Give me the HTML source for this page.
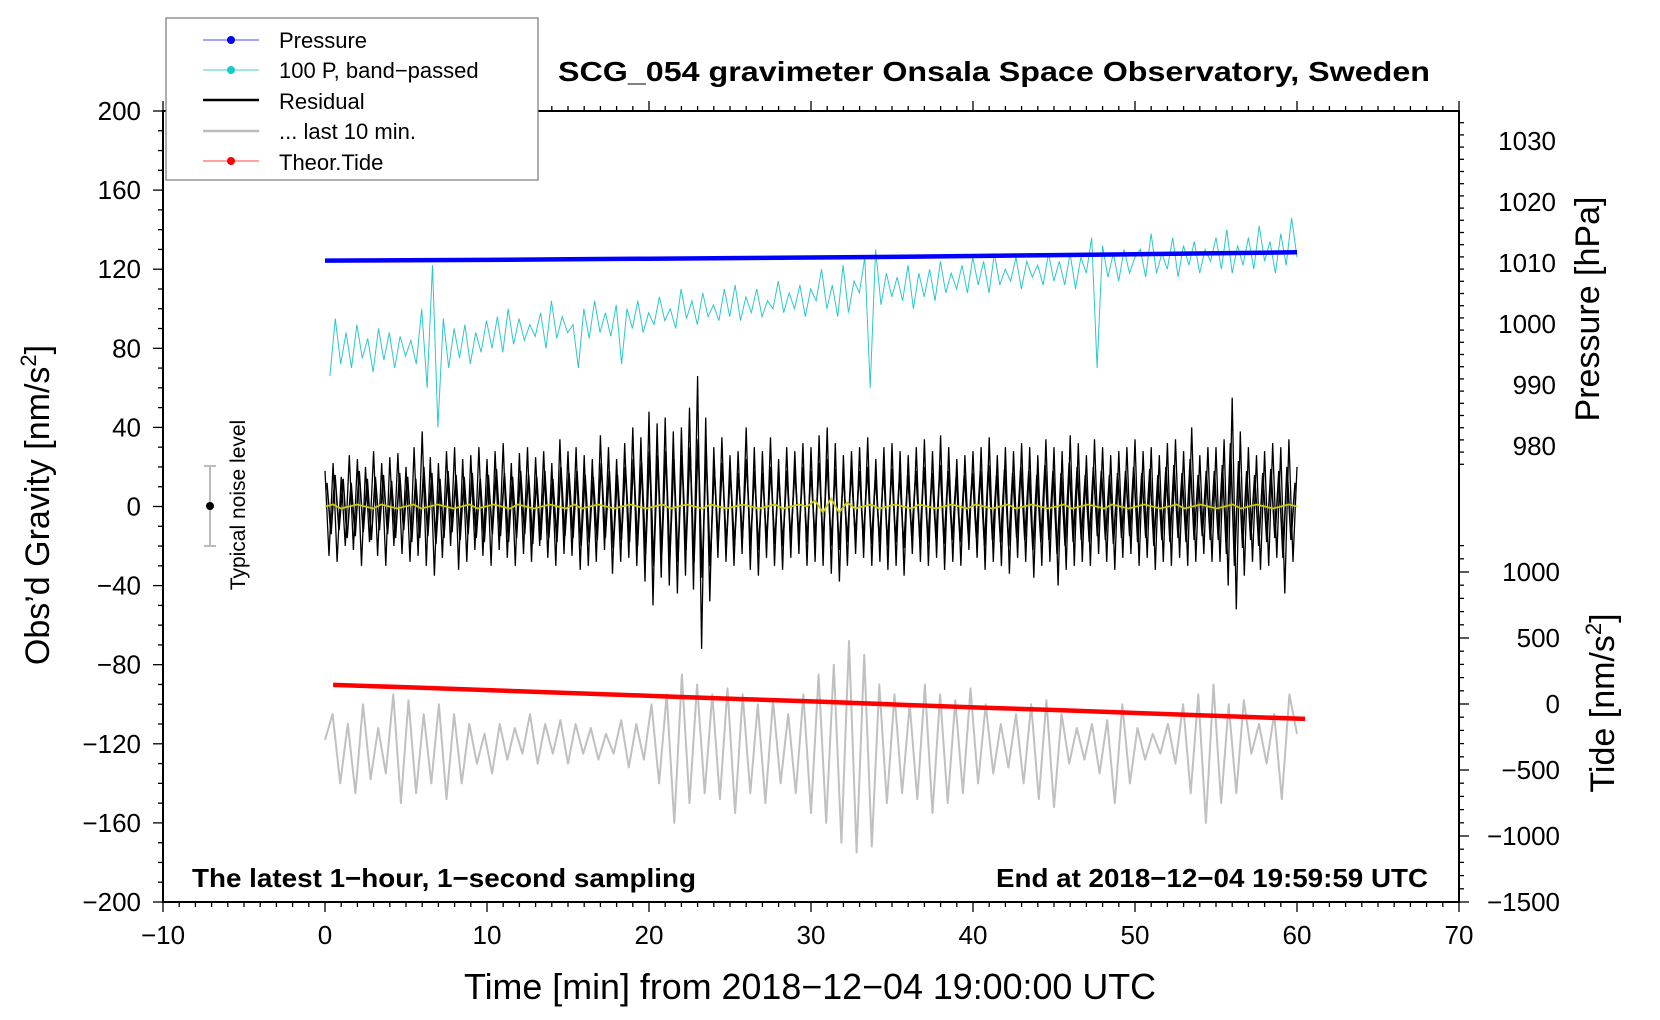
<!DOCTYPE html>
<html><head><meta charset="utf-8"><style>
html,body{margin:0;padding:0;background:#fff;}
svg{display:block;font-family:"Liberation Sans",sans-serif;}
</style></head><body>
<svg id="chart" width="1660" height="1020" viewBox="0 0 1660 1020">
<rect x="0" y="0" width="1660" height="1020" fill="#fff"/>
<g id="marks"></g>
<g id="axes"></g>
<text x="994" y="81" text-anchor="middle" font-size="28" font-weight="bold" textLength="872" lengthAdjust="spacingAndGlyphs">SCG_054 gravimeter Onsala Space Observatory, Sweden</text>
<text x="192" y="887" font-size="26" font-weight="bold" textLength="504" lengthAdjust="spacingAndGlyphs">The latest 1−hour, 1−second sampling</text>
<text x="1428" y="887" text-anchor="end" font-size="26" font-weight="bold" textLength="432" lengthAdjust="spacingAndGlyphs">End at 2018−12−04 19:59:59 UTC</text>
<text x="810" y="999" text-anchor="middle" font-size="36" textLength="692" lengthAdjust="spacingAndGlyphs">Time [min] from 2018−12−04 19:00:00 UTC</text>
<text transform="translate(49,505) rotate(-90)" text-anchor="middle" font-size="34">Obs’d Gravity [nm/s<tspan dy="-13" font-size="22">2</tspan><tspan dy="13">]</tspan></text>
<text transform="translate(1599,309) rotate(-90)" text-anchor="middle" font-size="34">Pressure [hPa]</text>
<text transform="translate(1614,703) rotate(-90)" text-anchor="middle" font-size="34">Tide [nm/s<tspan dy="-13" font-size="22">2</tspan><tspan dy="13">]</tspan></text>
<g>
<line x1="210" y1="466" x2="210" y2="546" stroke="#bbb" stroke-width="2"/>
<line x1="204" y1="466" x2="216" y2="466" stroke="#bbb" stroke-width="2"/>
<line x1="204" y1="546" x2="216" y2="546" stroke="#bbb" stroke-width="2"/>
<circle cx="210" cy="506" r="4" fill="#000"/>
<text transform="translate(245,505) rotate(-90)" text-anchor="middle" font-size="21">Typical noise level</text>
</g>
<g>
<rect x="166" y="18" width="372" height="162" fill="#fff" stroke="#777" stroke-width="1.2"/>
<g><line x1="203" y1="40" x2="259" y2="40" stroke="#44f" stroke-width="1"/><circle cx="231" cy="40" r="4" fill="#00f"/><text x="279" y="48" font-size="22">Pressure</text></g>
<g><line x1="203" y1="70" x2="259" y2="70" stroke="#4cc" stroke-width="1"/><circle cx="231" cy="70" r="4" fill="#1cc"/><text x="279" y="78" font-size="22">100 P, band−passed</text></g>
<g><line x1="203" y1="100" x2="259" y2="100" stroke="#000" stroke-width="2.5"/><text x="279" y="109" font-size="22">Residual</text></g>
<g><line x1="203" y1="131" x2="259" y2="131" stroke="#bbb" stroke-width="2.5"/><text x="279" y="139" font-size="22">... last 10 min.</text></g>
<g><line x1="203" y1="161" x2="259" y2="161" stroke="#f44" stroke-width="1"/><circle cx="231" cy="161" r="4" fill="#f00"/><text x="279" y="170" font-size="22">Theor.Tide</text></g>
</g>
</svg>
<script>
// ---- data ----
const xTicks = [-10,0,10,20,30,40,50,60,70];
const yTicks = [-200,-160,-120,-80,-40,0,40,80,120,160,200];
const pTicks = [980,990,1000,1010,1020,1030];
const tideTicks = [-1500,-1000,-500,0,500,1000];
const pressureTimes = [0,5,10,15,20,25,30,35,40,45,50,55,60];
const pressureValues = [1010.4,1010.45,1010.5,1010.6,1010.7,1010.8,1010.9,1011.0,1011.15,1011.3,1011.45,1011.6,1011.75];
const tideTimes = [0.5,5.5,10.5,15.5,20.5,25.5,30.5,35.5,40.5,45.5,50.5,55.5,60.5];
const tideValues = [145,125,103,82,60,38,18,-5,-27,-48,-70,-92,-113];
const residualValues = [18,-25,22,-28,15,-20,26,-22,24,-30,20,-18,28,-25,22,-30,25,-20,27,-24,
20,-28,30,-25,38,-30,25,-35,22,-26,28,-20,30,-32,24,-28,26,-22,30,-25,
24,-30,28,-22,32,-26,22,-30,27,-24,30,-28,25,-20,28,-26,22,-30,34,-24,
28,-25,30,-32,26,-30,24,-28,36,-22,30,-34,24,-28,32,-26,40,-30,35,-38,
48,-50,42,-36,45,-40,38,-44,40,-35,50,-42,66,-72,45,-48,30,-26,35,-28,
26,-30,28,-24,40,-32,30,-35,28,-26,35,-30,24,-32,30,-26,28,-24,32,-30,
30,-28,36,-30,40,-34,32,-38,26,-30,28,-24,30,-26,35,-30,24,-28,30,-32,
32,-30,28,-35,26,-24,30,-28,34,-30,28,-26,36,-32,30,-28,24,-30,26,-22,
28,-26,30,-32,35,-28,26,-30,30,-34,28,-26,32,-28,30,-36,26,-30,34,-28,
30,-40,28,-32,36,-30,32,-28,26,-30,34,-24,30,-28,26,-32,28,-26,30,-24,
34,-30,28,-26,30,-32,26,-28,32,-30,34,-26,28,-30,40,-28,26,-24,30,-28,
30,-28,34,-40,55,-52,38,-35,30,-28,26,-32,28,-30,32,-26,30,-44,34,-28,20];
const residualCoreValues = [12,-14,16,-12,14,-16,12,-15,18,-13,14,-17,15,-12,16,-14,13,-16,17,-12,
15,-18,14,-16,20,-15,17,-19,14,-16,18,-13,16,-17,15,-14,17,-16,14,-18,
16,-14,19,-15,17,-18,15,-16,18,-14,16,-19,15,-17,18,-16,14,-18,20,-15,
17,-16,18,-20,16,-18,15,-17,22,-16,18,-21,16,-17,20,-18,24,-20,22,-24,
28,-30,26,-24,28,-26,24,-28,26,-22,30,-28,34,-36,28,-30,20,-18,22,-20,
18,-20,17,-16,24,-20,18,-22,17,-18,20,-19,16,-20,18,-17,19,-16,20,-18,
18,-17,22,-19,24,-20,19,-22,17,-18,19,-16,18,-17,20,-19,16,-18,19,-20,
19,-18,17,-21,16,-15,18,-17,20,-18,17,-16,21,-19,18,-17,15,-18,16,-14,
17,-16,18,-20,21,-17,16,-18,19,-20,17,-16,20,-17,18,-22,16,-18,21,-17,
18,-24,17,-20,22,-18,20,-17,16,-18,20,-15,18,-17,16,-19,17,-16,18,-15,
20,-18,17,-16,19,-20,16,-17,20,-18,21,-16,17,-18,24,-17,16,-15,18,-17,
18,-17,21,-24,32,-30,23,-21,18,-17,16,-20,17,-18,19,-16,18,-26,20,-17,12];
const bandPassedValues = [66,95,72,88,70,92,75,85,68,90,74,88,70,86,76,
84,72,100,60,122,40,95,70,90,75,92,72,88,78,94,
80,96,78,100,82,95,84,92,86,98,80,104,85,96,88,
92,70,100,85,104,88,98,86,102,72,100,90,104,88,98,
92,106,94,100,90,110,95,104,92,108,96,102,94,110,96,
112,94,106,98,110,96,104,100,114,98,108,100,112,96,110,
104,120,100,112,96,122,98,114,108,126,60,130,102,118,106,
116,104,122,100,118,106,120,104,124,108,118,110,122,108,126,
112,124,108,128,112,120,114,126,110,124,116,122,112,128,114,
124,112,128,110,126,118,136,70,132,116,128,114,130,118,126,
130,116,138,118,128,120,136,116,132,122,134,118,130,124,136,
120,140,118,132,122,136,120,142,124,134,118,138,122,146,126];
const lastTenValues = [-118,-105,-140,-110,-145,-100,-138,-112,-135,-95,-150,-98,-145,-105,-140,-100,-148,-105,-140,-110,-130,-115,-135,-110,-128,-112,-125,-105,-130,-110,-125,-108,-130,-110,-125,-112,-128,-115,-125,-108,-132,-110,-128,-100,-140,-95,-160,-85,-150,-90,-145,-95,-148,-92,-155,-95,-145,-100,-150,-98,-140,-105,-145,-95,-155,-85,-160,-80,-170,-68,-175,-75,-172,-90,-150,-95,-145,-100,-148,-90,-155,-95,-150,-98,-145,-92,-140,-100,-135,-110,-132,-105,-140,-100,-148,-98,-152,-105,-130,-112,-128,-110,-135,-108,-150,-100,-140,-112,-128,-115,-125,-110,-130,-100,-145,-95,-160,-90,-150,-100,-145,-98,-125,-110,-130,-105,-148,-95,-115];
const filteredValues = [0,1,-1,0,1,0,-1,1,0,-1,0,1,-1,0,1,0,-1,0,1,-1,0,1,0,-1,1,0,-1,0,1,0,-1,1,-1,0,1,0,-1,0,1,0,-1,0,1,-1,0,1,0,-1,1,0,-1,0,1,0,-1,0,1,-1,0,1,0,
  3,-3,4,-3,2,-1,0,1,-1,0,1,0,-1,1,0,-1,0,1,0,-1,1,0,-1,0,1,-1,0,1,0,-1,0,1,-1,0,1,0,-1,1,0,-1,0,1,0,-1,0,1,-1,0,1,0,-1,0,1,-1,0,1,0,-1,0,1,0];

// ---- scales ----
const L=163,R=1459,T=111,B=902;
const xs=t=>L+(t+10)/80*(R-L);
const ys=v=>B-(v+200)/400*(B-T);
const ps=p=>141+(1030-p)*6.1;
const ts=v=>704-v*0.132;
const NS='http://www.w3.org/2000/svg';
function el(tag,attrs,parent){const e=document.createElementNS(NS,tag);for(const k in attrs)e.setAttribute(k,attrs[k]);parent.appendChild(e);return e;}
const marks=document.getElementById('marks');
const axes=document.getElementById('axes');
function pathFrom(times,vals,fy){return times.map((t,i)=>(i?'L':'M')+xs(t).toFixed(1)+','+fy(vals[i]).toFixed(1)).join('');}
function even(n,t0,t1){const a=[];for(let i=0;i<n;i++)a.push(t0+(t1-t0)*i/(n-1));return a;}

let p;
p=el('path',{d:pathFrom(even(bandPassedValues.length,0.3,60),bandPassedValues,ys),fill:'none',stroke:'#2cc8c8','stroke-width':1},marks);


p=el('path',{d:pathFrom(pressureTimes,pressureValues,ps),fill:'none',stroke:'#0000ff','stroke-width':4.5},marks);


p=el('path',{d:pathFrom(even(residualValues.length,0,60),residualValues,ys),fill:'none',stroke:'#000','stroke-width':1.3},marks);


p=el('path',{d:pathFrom(even(residualCoreValues.length,0.12,59.88),residualCoreValues,ys),fill:'none',stroke:'#000','stroke-width':1.6},marks);


p=el('path',{d:pathFrom(even(filteredValues.length,0,60),filteredValues,ys),fill:'none',stroke:'#cccc00','stroke-width':1.8},marks);


p=el('path',{d:pathFrom(even(lastTenValues.length,0,60),lastTenValues,ys),fill:'none',stroke:'#c0c0c0','stroke-width':2,'stroke-linejoin':'round'},marks);


p=el('path',{d:pathFrom(tideTimes,tideValues,ts),fill:'none',stroke:'#ff0000','stroke-width':4.5},marks);



// ---- axes ----
const frame=el('rect',{x:L,y:T,width:R-L,height:B-T,fill:'none',stroke:'#000','stroke-width':2},axes);


for(let t=-10;t<=70;t++){const x=xs(t),len=t%10===0?10:5;
  el('line',{x1:x,y1:B,x2:x,y2:B+len,stroke:'#000','stroke-width':1.3},axes);
  el('line',{x1:x,y1:T,x2:x,y2:T-len,stroke:'#000','stroke-width':1.3},axes);}
xTicks.forEach(t=>{const e=el('text',{x:xs(t),y:944,'text-anchor':'middle','font-size':26},axes);e.textContent=t<0?'−'+(-t):t;
  
  });
for(let v=-200;v<=200;v+=10){const y=ys(v),len=v%40===0?10:5;el('line',{x1:L,y1:y,x2:L-len,y2:y,stroke:'#000','stroke-width':1.3},axes);}
yTicks.forEach(v=>{const e=el('text',{x:141,y:ys(v)+9,'text-anchor':'end','font-size':26},axes);e.textContent=v<0?'−'+(-v):v;
  
  });
for(let pv=975;pv<=1035;pv+=2){const y=ps(pv);if(y<T||y>470)continue;const len=pv%10===0?10:5;el('line',{x1:R,y1:y,x2:R+len,y2:y,stroke:'#000','stroke-width':1.3},axes);}
pTicks.forEach(v=>{const e=el('text',{x:1556,y:ps(v)+9,'text-anchor':'end','font-size':26},axes);e.textContent=v;
  
  });
for(let tv=-1500;tv<=1300;tv+=100){const y=ts(tv);if(y<540)continue;const len=tv%500===0?10:5;el('line',{x1:R,y1:y,x2:R+len,y2:y,stroke:'#000','stroke-width':1.3},axes);}
tideTicks.forEach(v=>{const e=el('text',{x:1560,y:ts(v)+9,'text-anchor':'end','font-size':26},axes);e.textContent=v<0?'−'+(-v):v;
  
  });
</script>
</body></html>
